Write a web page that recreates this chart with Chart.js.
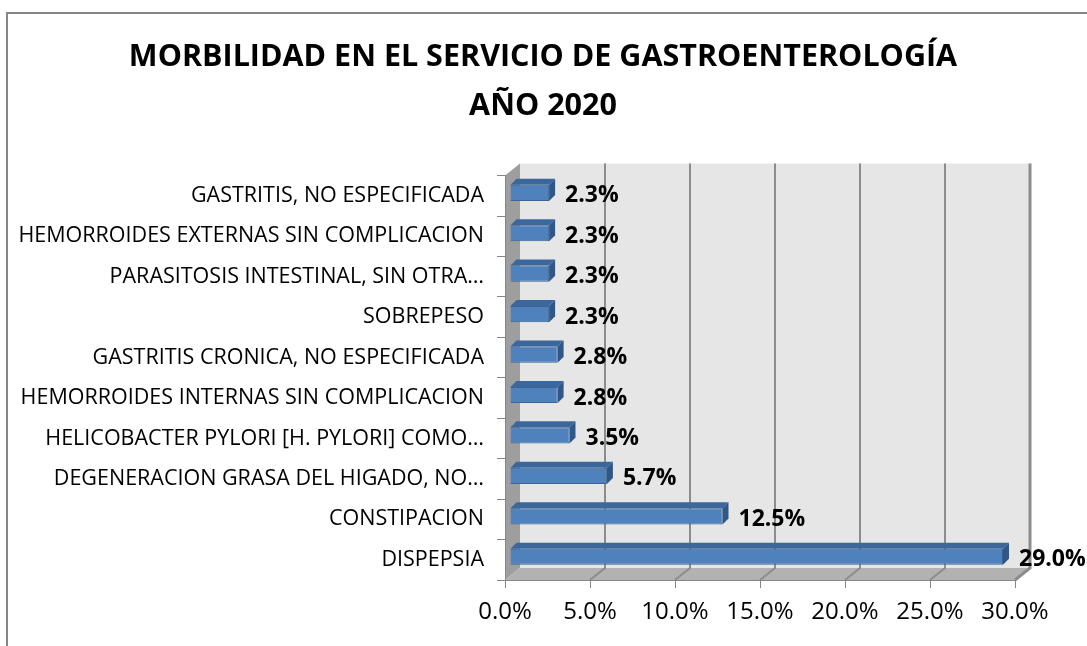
<!DOCTYPE html>
<html>
<head>
<meta charset="utf-8">
<script src="https://cdn.jsdelivr.net/npm/chart.js@4.4.0/dist/chart.umd.min.js"></script>
<style>
  html, body { margin: 0; padding: 0; background: #fff; }
  #wrap { width: 1087px; height: 646px; }
</style>
</head>
<body>
<div id="wrap"><canvas id="chart"></canvas></div>
<script>
const titleLines = ['MORBILIDAD EN EL SERVICIO DE GASTROENTEROLOGÍA', 'AÑO 2020'];

const categories = [
  'GASTRITIS, NO ESPECIFICADA',
  'HEMORROIDES EXTERNAS SIN COMPLICACION',
  'PARASITOSIS INTESTINAL, SIN OTRA…',
  'SOBREPESO',
  'GASTRITIS CRONICA, NO ESPECIFICADA',
  'HEMORROIDES INTERNAS SIN COMPLICACION',
  'HELICOBACTER PYLORI [H. PYLORI] COMO…',
  'DEGENERACION GRASA DEL HIGADO, NO…',
  'CONSTIPACION',
  'DISPEPSIA'
];

const values = [2.3, 2.3, 2.3, 2.3, 2.8, 2.8, 3.5, 5.7, 12.5, 29.0];

const xTickValues = [0, 5, 10, 15, 20, 25, 30];

const fmt = v => v.toFixed(1) + '%';

// 3d look: wall depth and bar offset inside it
const wall = { dx: 15, dy: 12 };
const bar = { fx: 5, fy: 3, dx: 6, dy: 6 };

const walls = {
  id: 'walls',
  beforeDraw(chart) {
    const { ctx, chartArea: a } = chart;
    const xs = chart.scales.x;
    const bl = a.left + wall.dx, bt = a.top - wall.dy;
    const br = a.right + wall.dx, bb = a.bottom - wall.dy;
    ctx.save();
    ctx.strokeStyle = '#868686';
    ctx.lineWidth = 2;
    ctx.strokeRect(7, 13, 1200, 1000);

    ctx.fillStyle = '#e6e6e6';
    ctx.fillRect(bl, bt, br - bl, bb - bt);

    ctx.fillStyle = '#9e9e9e';
    ctx.beginPath();
    ctx.moveTo(a.left, a.top); ctx.lineTo(bl, bt); ctx.lineTo(bl, bb); ctx.lineTo(a.left, a.bottom);
    ctx.closePath(); ctx.fill();

    ctx.fillStyle = '#b2b2b2';
    ctx.beginPath();
    ctx.moveTo(a.left, a.bottom); ctx.lineTo(bl, bb); ctx.lineTo(br, bb); ctx.lineTo(a.right, a.bottom);
    ctx.closePath(); ctx.fill();

    ctx.strokeStyle = '#8c8c8c';
    xs.ticks.forEach((t, i) => {
      if (t.value === 0) return;
      const px = xs.getPixelForValue(t.value);
      ctx.lineWidth = i === xs.ticks.length - 1 ? 3 : 2;
      ctx.beginPath();
      ctx.moveTo(px, a.bottom);
      ctx.lineTo(px + wall.dx, bb);
      ctx.lineTo(px + wall.dx, bt);
      ctx.stroke();
    });
    ctx.restore();
  }
};

const bars3d = {
  id: 'bars3d',
  beforeDatasetsDraw(chart) {
    chart.ctx.save();
    chart.ctx.translate(bar.fx, -bar.fy);
  },
  afterDatasetsDraw(chart) {
    const ctx = chart.ctx;
    const meta = chart.getDatasetMeta(0);
    meta.data.forEach(el => {
      const { x, y, base, height } = el.getProps(['x', 'y', 'base', 'height'], true);
      const top = y - height / 2, bot = y + height / 2;
      ctx.fillStyle = '#3c679d';
      ctx.beginPath();
      ctx.moveTo(base, top); ctx.lineTo(base + bar.dx, top - bar.dy);
      ctx.lineTo(x + bar.dx, top - bar.dy); ctx.lineTo(x, top);
      ctx.closePath(); ctx.fill();
      ctx.fillStyle = '#2f5788';
      ctx.beginPath();
      ctx.moveTo(x, top); ctx.lineTo(x + bar.dx, top - bar.dy);
      ctx.lineTo(x + bar.dx, bot - bar.dy); ctx.lineTo(x, bot);
      ctx.closePath(); ctx.fill();
    });
    ctx.restore();

    ctx.save();
    ctx.font = 'bold 23px "Open Sans"';
    ctx.fillStyle = '#000';
    ctx.textBaseline = 'middle';
    ctx.textAlign = 'left';
    meta.data.forEach((el, i) => {
      ctx.fillText(fmt(values[i]), el.x + 21, el.y);
    });
    ctx.restore();
  }
};

Chart.defaults.font.family = '"Open Sans", sans-serif';
Chart.defaults.color = '#000';

const ctx = document.getElementById('chart').getContext('2d');
new Chart(ctx, {
  type: 'bar',
  data: {
    labels: categories,
    datasets: [{
      data: values,
      backgroundColor: '#4f81bd',
      borderColor: '#3a6394',
      borderWidth: 1,
      categoryPercentage: 1,
      barPercentage: 0.4,
      clip: false
    }]
  },
  options: {
    indexAxis: 'y',
    animation: false,
    responsive: true,
    maintainAspectRatio: false,
    devicePixelRatio: 1,
    layout: { padding: { left: 0, right: 1, top: 0, bottom: 0 } },
    plugins: {
      legend: { display: false },
      tooltip: { enabled: false },
      title: {
        display: true,
        text: titleLines,
        color: '#000',
        font: { size: 30.5, weight: 'bold', lineHeight: 1.6 },
        padding: { top: 33, bottom: 45 }
      }
    },
    scales: {
      x: {
        min: 0,
        max: 30,
        afterBuildTicks: s => { s.ticks = xTickValues.map(v => ({ value: v })); },
        afterFit: s => { s.height = 66; },
        grid: { drawOnChartArea: false, tickLength: 8, color: '#868686' },
        border: { color: '#868686' },
        ticks: { padding: 10, font: { size: 24 }, callback: v => fmt(v) }
      },
      y: {
        afterFit: s => { s.width = 505; },
        grid: { drawOnChartArea: false, tickLength: 8, color: '#868686', offset: true },
        border: { color: '#868686' },
        ticks: { padding: 13, font: { size: 21.5 }, autoSkip: false }
      },
      // empty right-hand gutter so the plot ends where the original does
      gutter: {
        type: 'category',
        position: 'right',
        afterFit: s => { s.width = 71; },
        grid: { display: false },
        border: { display: false },
        ticks: { display: false }
      }
    }
  },
  plugins: [walls, bars3d]
});
</script>
</body>
</html>
